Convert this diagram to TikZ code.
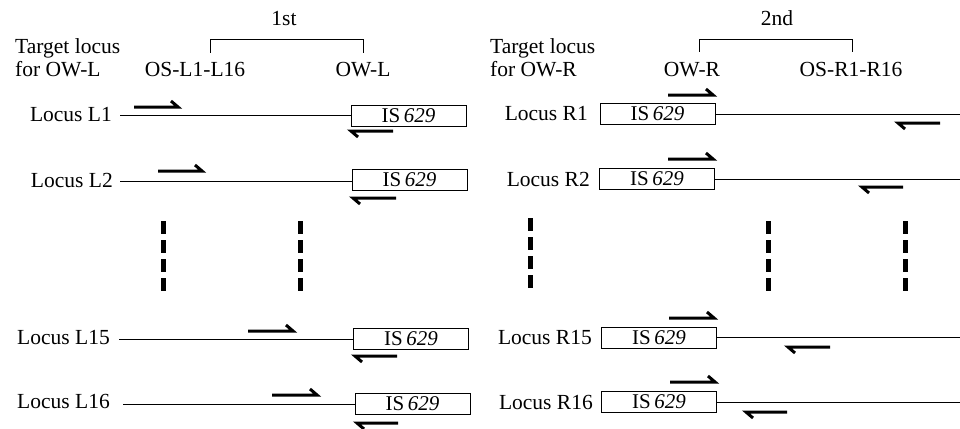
\documentclass[tikz,border=0pt]{standalone}
\usepackage{fontspec}
\setmainfont{Liberation Serif}
\newcommand\fwdprimer[3]{\draw[primer] (#1,#3) -- (#2,#3) -- ++(-7,-6);}
\newcommand\revprimer[3]{\draw[primer] (#2,#3) -- (#1,#3) -- ++(7,6);}
\begin{document}
\begin{tikzpicture}[x=1pt,y=-1pt,
  lbl/.style={font=\fontsize{21.5}{25}\selectfont, inner sep=0pt},
  isbox/.style={draw, line width=0.9pt, minimum width=115pt, minimum height=21pt, inner sep=0pt, font=\fontsize{21}{25}\selectfont},
  dna/.style={line width=0.9pt},
  primer/.style={line width=3pt, line join=miter},
  gapmark/.style={line width=5pt, dash pattern=on 13pt off 6pt},
  brk/.style={line width=0.9pt}]
\useasboundingbox (0,0) rectangle (960,428);

% ---------- headers ----------
\node[lbl, anchor=base] (first) at (284,26) {1st};
\node[lbl, anchor=base] (second) at (777,26) {2nd};
\draw[brk] (210,53) -- (210,39) -- (363,39) -- (363,53);
\draw[brk] (699,52) -- (699,39) -- (852,39) -- (852,52);
\node[lbl, anchor=base west] (tl1) at (15,54) {Target locus};
\node[lbl, anchor=base west] (tl2) at (15,76) {for OW-L};
\node[lbl, anchor=base] (osl) at (195,77) {OS-L1-L16};
\node[lbl, anchor=base] (owl) at (363,77) {OW-L};
\node[lbl, anchor=base west] (tr1) at (490,54) {Target locus};
\node[lbl, anchor=base west] (tr2) at (490,76) {for OW-R};
\node[lbl, anchor=base] (owr) at (692,77) {OW-R};
\node[lbl, anchor=base] (osr) at (851,77) {OS-R1-R16};

% ---------- left loci ----------
\node[lbl, anchor=east] (lL1) at (112,115) {Locus L1};
\node[isbox] (bL1) at (408.5,115.5) {IS\,\textit{629}};
\coordinate (sL1) at (120,115);
\draw[dna] (sL1) -- (bL1.west |- sL1);
\fwdprimer{134}{178}{107}
\revprimer{351}{393}{131}

\node[lbl, anchor=east] (lL2) at (113,180) {Locus L2};
\node[isbox] (bL2) at (409.5,180) {IS\,\textit{629}};
\coordinate (sL2) at (120,181);
\draw[dna] (sL2) -- (bL2.west |- sL2);
\fwdprimer{158}{202}{171}
\revprimer{353}{396}{198}

\node[lbl, anchor=east] (lL15) at (110,338) {Locus L15};
\node[isbox] (bL15) at (411,338.5) {IS\,\textit{629}};
\coordinate (sL15) at (119,339);
\draw[dna] (sL15) -- (bL15.west |- sL15);
\fwdprimer{248}{293}{331}
\revprimer{355}{397}{356}

\node[lbl, anchor=east] (lL16) at (110,401) {Locus L16};
\node[isbox] (bL16) at (412.5,404) {IS\,\textit{629}};
\coordinate (sL16) at (123,404);
\draw[dna] (sL16) -- (bL16.west |- sL16);
\fwdprimer{272}{317}{395}
\revprimer{357}{398}{423}

% ---------- right loci ----------
\node[lbl, anchor=east] (lR1) at (588,114) {Locus R1};
\node[isbox] (bR1) at (657.5,114) {IS\,\textit{629}};
\coordinate (eR1) at (960,114);
\draw[dna] (bR1.east) -- (eR1);
\fwdprimer{668}{713}{95}
\revprimer{898}{940}{123}

\node[lbl, anchor=east] (lR2) at (590,179) {Locus R2};
\node[isbox] (bR2) at (657,179) {IS\,\textit{629}};
\coordinate (eR2) at (960,179);
\draw[dna] (bR2.east) -- (eR2);
\fwdprimer{668}{713}{159}
\revprimer{862}{903}{187}

\node[lbl, anchor=east] (lR15) at (592,337.5) {Locus R15};
\node[isbox] (bR15) at (659,337.5) {IS\,\textit{629}};
\coordinate (eR15) at (960,337.5);
\draw[dna] (bR15.east) -- (eR15);
\fwdprimer{669}{714}{318}
\revprimer{788}{830}{347}

\node[lbl, anchor=east] (lR16) at (593,402) {Locus R16};
\node[isbox] (bR16) at (659,402) {IS\,\textit{629}};
\coordinate (eR16) at (960,402);
\draw[dna] (bR16.east) -- (eR16);
\fwdprimer{670}{715}{382}
\revprimer{746}{787}{412}

% ---------- gap marks ----------
\draw[gapmark] (163,221) -- (163,293);
\draw[gapmark] (300,221) -- (300,293);
\draw[gapmark] (530,218) -- (530,290);
\draw[gapmark] (768,221) -- (768,293);
\draw[gapmark] (905,221) -- (905,293);
\end{tikzpicture}
\end{document}
